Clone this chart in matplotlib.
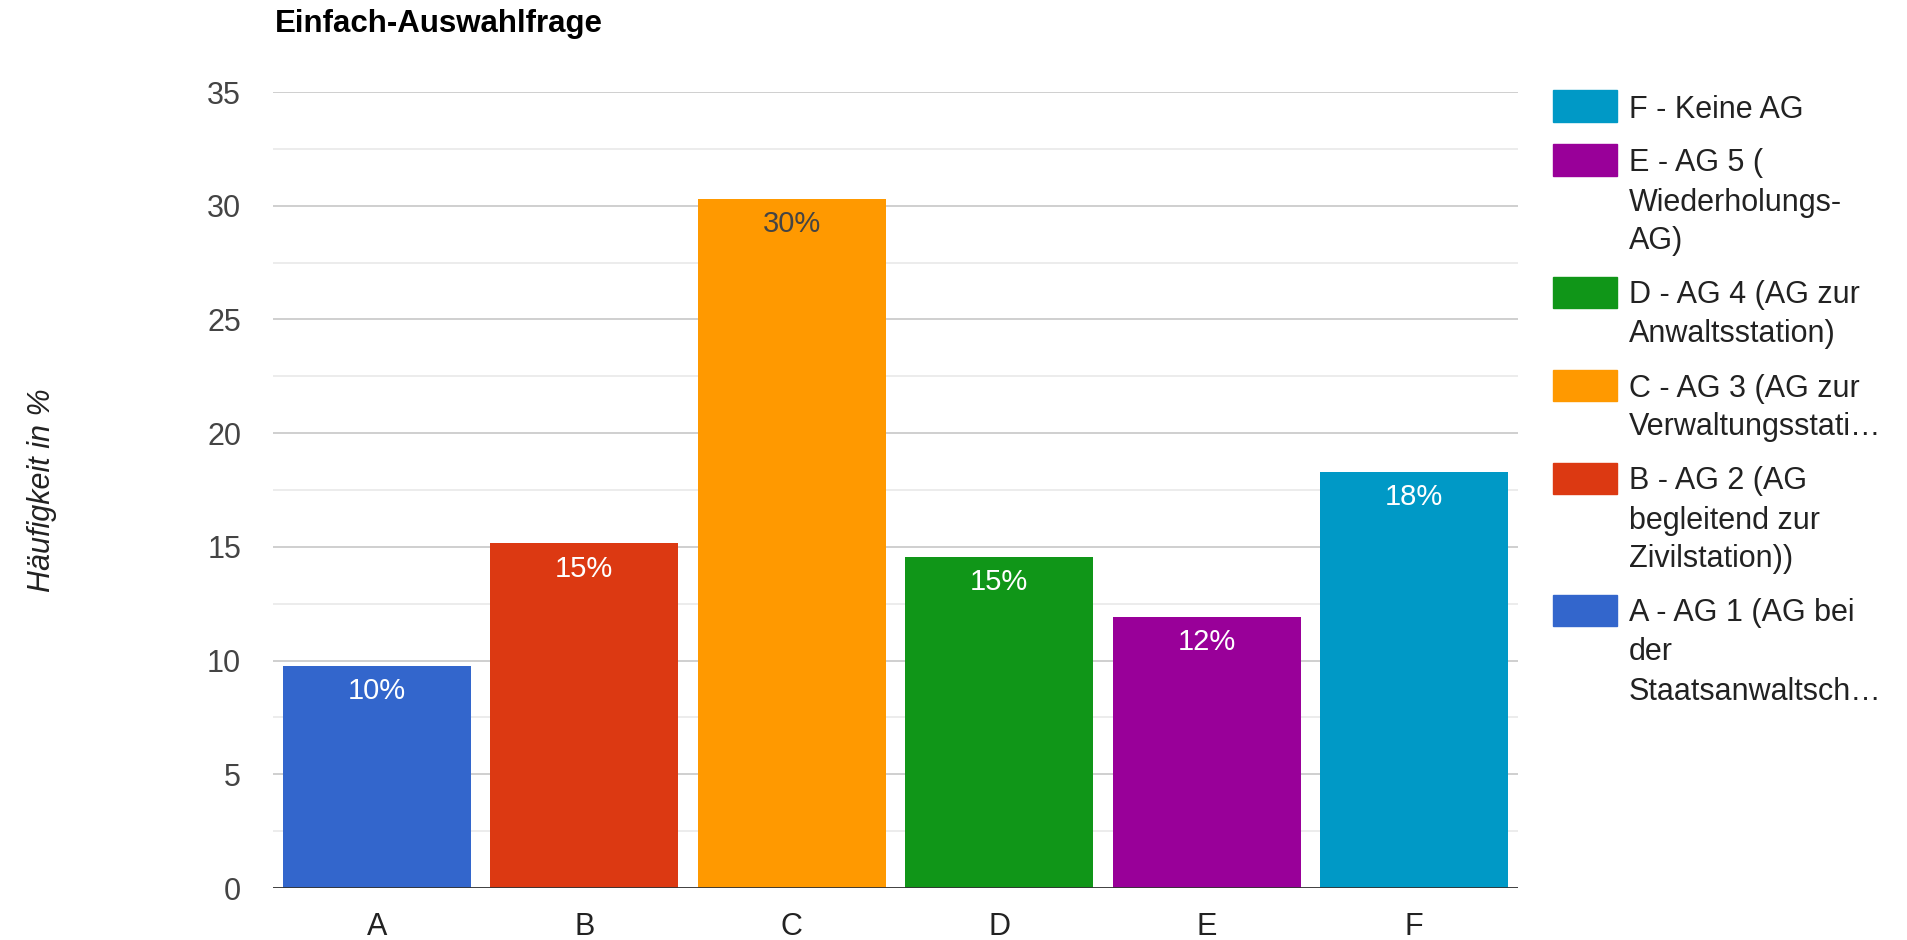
import numpy as np
import matplotlib.pyplot as plt

plt.rcParams['font.family'] = ['Liberation Sans', 'DejaVu Sans']

# data
categories = ['A', 'B', 'C', 'D', 'E', 'F']
values = [9.76, 15.15, 30.3, 14.55, 11.9, 18.3]
bar_labels = ['10%', '15%', '30%', '15%', '12%', '18%']
colors = ['#3366cc', '#dc3912', '#ff9900', '#109618', '#990099', '#0099c6']
label_colors = ['white', 'white', '#444444', 'white', 'white', 'white']
yticks = [0, 5, 10, 15, 20, 25, 30, 35]

# legend entries, top to bottom (already wrapped like the original)
legend_lines = [
    ['F - Keine AG'],
    ['E - AG 5 (', 'Wiederholungs-', 'AG)'],
    ['D - AG 4 (AG zur', 'Anwaltsstation)'],
    ['C - AG 3 (AG zur', 'Verwaltungsstati…'],
    ['B - AG 2 (AG', 'begleitend zur', 'Zivilstation))'],
    ['A - AG 1 (AG bei', 'der', 'Staatsanwaltsch…'],
]
legend_colors = ['#0099c6', '#990099', '#109618', '#ff9900', '#dc3912', '#3366cc']

W, H = 1908, 940
fig = plt.figure(figsize=(W / 100, H / 100), dpi=100)
ax = fig.add_axes([273 / W, 52 / H, (1518 - 273) / W, (888 - 92) / H])

x = np.arange(len(categories))
bars = ax.bar(x, values, width=0.905, color=colors, zorder=2)

# value labels inside the top of each bar
for b, lab, c in zip(bars, bar_labels, label_colors):
    ax.annotate(lab, (b.get_x() + b.get_width() / 2, b.get_height()),
                xytext=(0, -8), textcoords='offset points',
                ha='center', va='top', fontsize=21, color=c, zorder=3)

ax.set_xlim(-0.5, len(categories) - 0.5)
ax.set_ylim(0, 35)
ax.set_yticks(yticks)
ax.set_yticks(np.arange(2.5, 35, 5), minor=True)
ax.set_xticks(x)
ax.set_xticklabels(categories)
ax.tick_params(axis='y', which='both', length=0, pad=23, labelsize=22, labelcolor='#444444')
ax.tick_params(axis='x', length=0, pad=17, labelsize=22, labelcolor='#222222')

ax.grid(axis='y', which='major', color='#cccccc', lw=1.3, zorder=0)
ax.grid(axis='y', which='minor', color='#ebebeb', lw=1.3, zorder=0)
ax.set_axisbelow(True)
for s in ax.spines.values():
    s.set_visible(False)
ax.axhline(0, color='#333333', lw=2, zorder=4)

# title and axis label
fig.text(275 / W, 1 - 32 / H, 'Einfach-Auswahlfrage', fontsize=22.5,
         fontweight='bold', color='black', ha='left', va='baseline')
fig.text(42 / W, 1 - 490 / H, 'Häufigkeit in %', fontsize=22, style='italic',
         color='#222222', rotation=90, ha='center', va='center')

# legend drawn by hand so the wrapped lines match
y = 106
for lines, c in zip(legend_lines, legend_colors):
    fig.patches.append(plt.Rectangle((1553 / W, 1 - (y + 15.5) / H), 64 / W, 31 / H,
                                     transform=fig.transFigure, color=c))
    for i, line in enumerate(lines):
        fig.text(1629 / W, 1 - (y + i * 39) / H, line, fontsize=22,
                 color='#222222', ha='left', va='center_baseline')
    y += (len(lines) - 1) * 39 + 54

fig.savefig('out.png', dpi=100)
